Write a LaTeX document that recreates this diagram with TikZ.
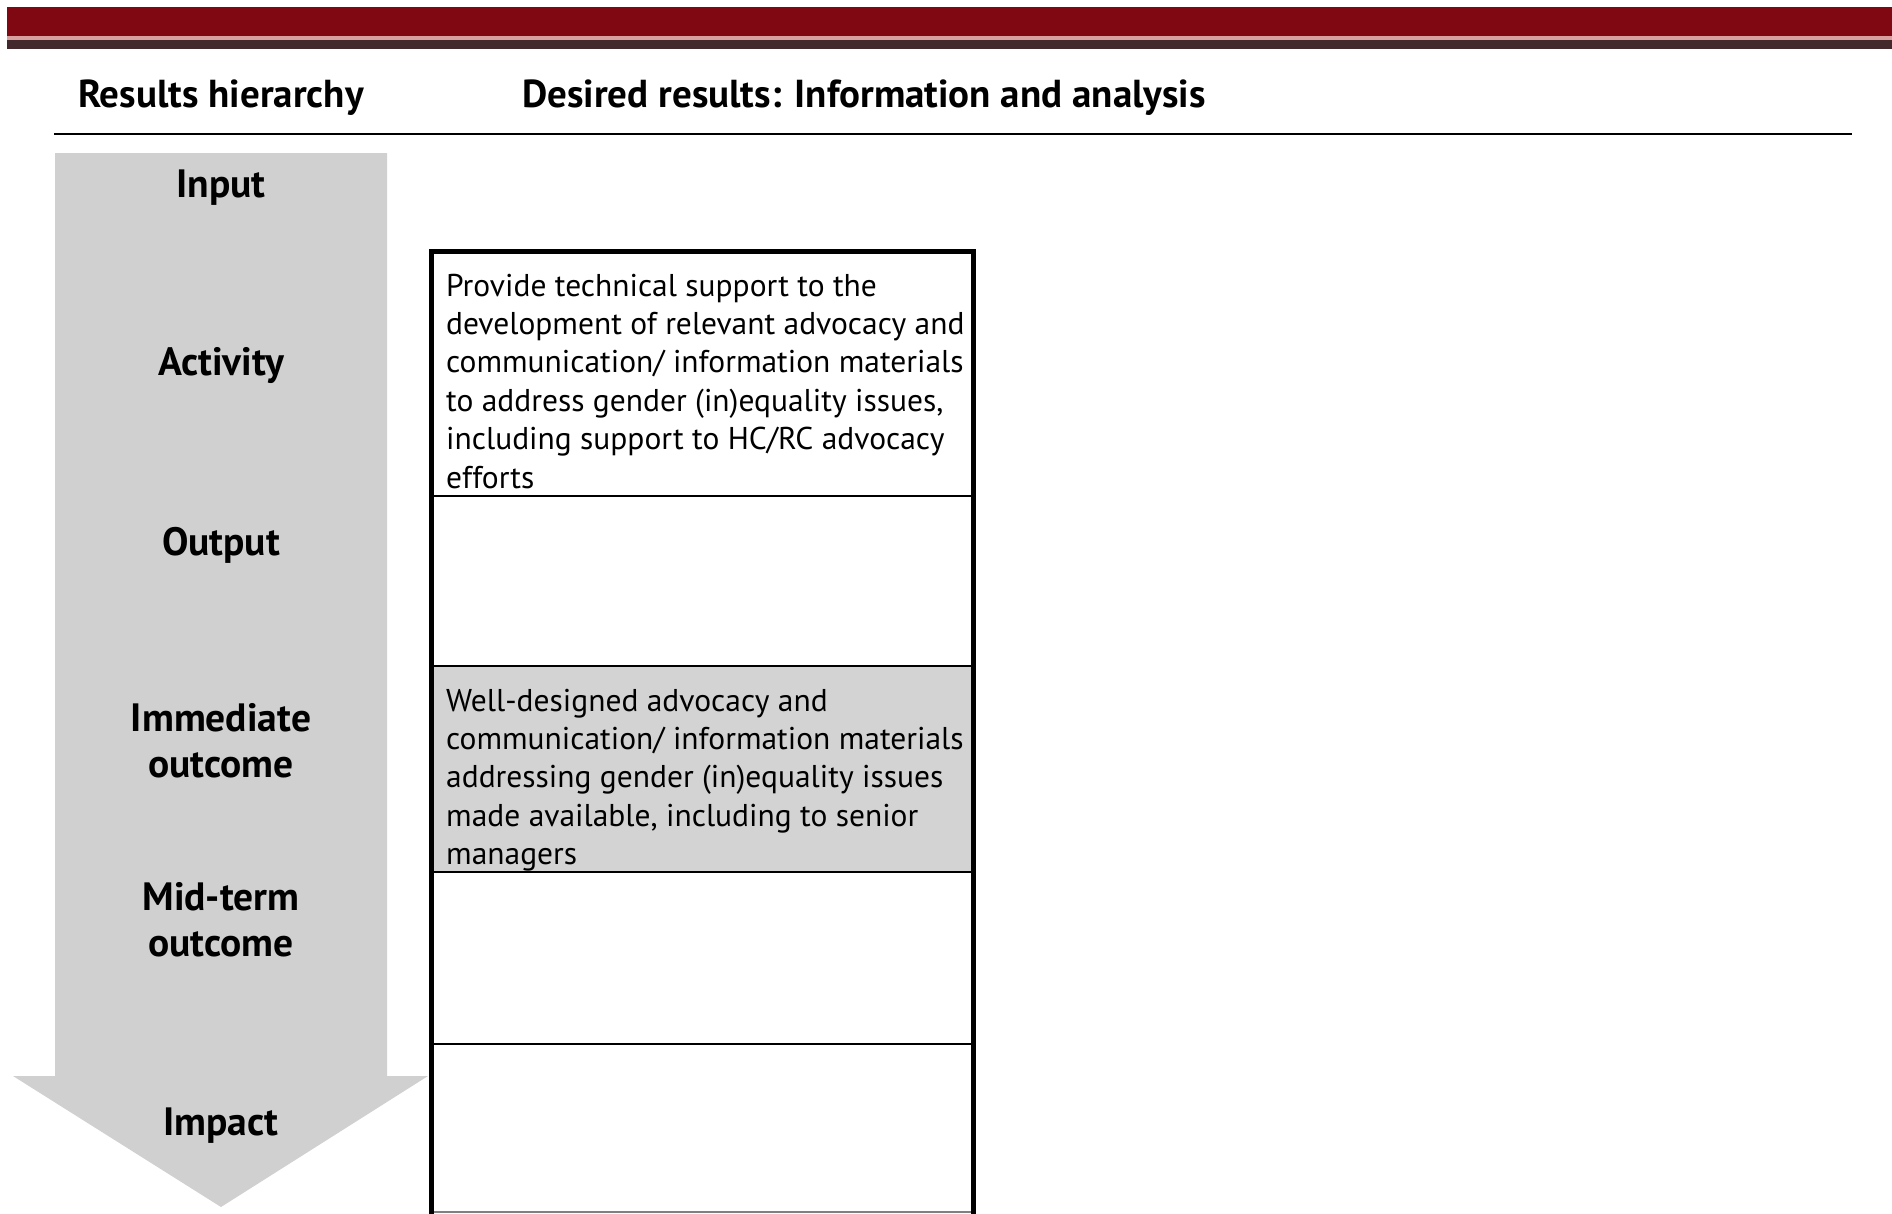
\documentclass[tikz,border=0pt]{standalone}
\usepackage{fontspec}
\setmainfont{PT Sans}
\definecolor{bannerred}{HTML}{800812}
\definecolor{bannerline}{HTML}{D9A0A0}
\definecolor{bannerdark}{HTML}{43292B}
\definecolor{arrowgrey}{HTML}{D0D0D0}
\definecolor{cellgrey}{HTML}{D3D3D3}
\begin{document}
\begin{tikzpicture}[x=1pt,y=-1pt,
  heading/.style={anchor=base, inner sep=0pt, font=\fontsize{39}{44}\selectfont\bfseries},
  levellabel/.style={anchor=base, inner sep=0pt, align=center,
    font=\fontsize{39.5}{46}\selectfont\bfseries},
  celltext/.style={anchor=base west, inner sep=0pt},
  thinrule/.style={line width=2pt},
  frame/.style={line width=5pt}]
\useasboundingbox (0,0) rectangle (1892,1213);

% top banner
\fill[bannerred]  (7,7)  rectangle (1892,36);
\fill[bannerline] (7,36) rectangle (1892,40);
\fill[bannerdark] (7,40) rectangle (1892,49);

% column headings and rule
\node[heading] (hdleft) at (221,107) {Results hierarchy};
\node[heading, anchor=base west] (hdright) at (522,107) {Desired results: Information and analysis};
\draw[line width=2.2pt] (54,134) -- (1852,134);

% results hierarchy arrow
\fill[arrowgrey] (55,153) -- (387,153) -- (387,1076) -- (428,1076)
  -- (221,1207) -- (13,1076) -- (55,1076) -- cycle;

\node[levellabel] (input)    at (221,197) {Input};
\node[levellabel] (activity) at (221,375) {Activity};
\node[levellabel] (output)   at (221,555) {Output};
\node[levellabel, anchor=north] (immediate) at (221,703) {Immediate\\outcome};
\node[levellabel, anchor=north] (midterm)   at (221,882) {Mid-term\\outcome};
\node[levellabel] (impact)   at (221,1135) {Impact};

% results table
\fill[cellgrey] (431,666) rectangle (973,872);
\draw[thinrule] (431,496)  -- (973,496);
\draw[thinrule] (431,666)  -- (973,666);
\draw[thinrule] (431,872)  -- (973,872);
\draw[thinrule] (431,1044) -- (973,1044);
\draw[thinrule, gray] (431,1212) -- (973,1212);
\draw[frame] (431,1216) -- (431,251) -- (973,251) -- (973,1216);

\node[celltext] (activitycell) at (446,296) {\parbox[t]{700pt}{\fontsize{31.5}{38.4}\selectfont\raggedright
  Provide technical support to the\\
  development of relevant advocacy and\\
  communication/ information materials\\
  to address gender (in)equality issues,\\
  including support to HC/RC advocacy\\
  efforts}};

\node[celltext] (outcomecell) at (446,711) {\parbox[t]{700pt}{\fontsize{31.5}{38.4}\selectfont\raggedright
  Well-designed advocacy and\\
  communication/ information materials\\
  addressing gender (in)equality issues\\
  made available, including to senior\\
  managers}};
\end{tikzpicture}
\end{document}
